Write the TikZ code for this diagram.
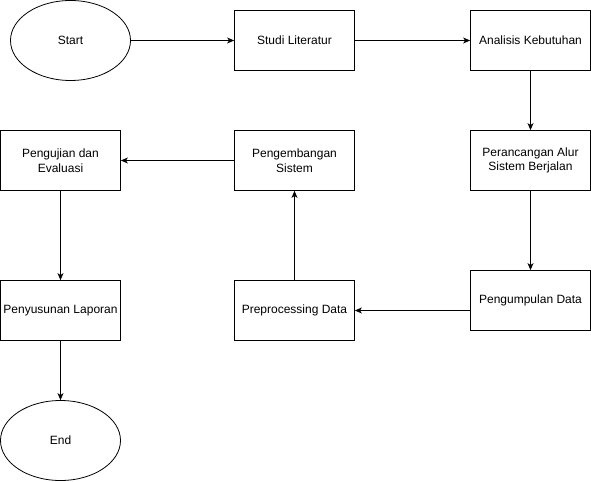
\documentclass[tikz,border=0pt]{standalone}
\usepackage{fontspec}
\setmainfont{Liberation Sans}
\usetikzlibrary{shapes.geometric,arrows.meta}
\begin{document}
\begin{tikzpicture}[x=1bp,y=-1bp,
  every node/.style={font=\fontsize{12bp}{14.5bp}\selectfont, align=center, inner sep=0pt},
  box/.style={draw, line width=0.8bp, minimum width=120bp, minimum height=60bp},
  term/.style={draw, ellipse, line width=0.8bp, minimum width=120bp, minimum height=80bp},
  arr/.style={draw, line width=0.8bp, -{Stealth[length=7bp,width=6bp,inset=2bp]}}]
\useasboundingbox (0,0) rectangle (591,482);
\node[term] (start) at (70.5,40.5) {Start};
\node[box] (studi) at (294.5,40.5) {Studi Literatur};
\node[box] (anal) at (530.5,40.5) {Analisis Kebutuhan};
\node[box] (peran) at (530.5,160.5) {Perancangan Alur\\Sistem Berjalan};
\node[box] (kumpul) at (530.5,300.5) {Pengumpulan Data};
\node[box] (prep) at (294.5,310.5) {Preprocessing Data};
\node[box] (kembang) at (294.5,160.5) {Pengembangan\\Sistem};
\node[box] (uji) at (60.5,160.5) {Pengujian dan\\Evaluasi};
\node[box] (susun) at (60.5,310.5) {Penyusunan Laporan};
\node[term] (end) at (60.5,440.5) {End};
\draw[arr] (start) -- (studi);
\draw[arr] (studi) -- (anal);
\draw[arr] (anal) -- (peran);
\draw[arr] (peran) -- (kumpul);
\draw[arr] (kumpul.west |- prep.east) -- (prep.east);
\draw[arr] (prep) -- (kembang);
\draw[arr] (kembang) -- (uji);
\draw[arr] (uji) -- (susun);
\draw[arr] (susun) -- (end);
\end{tikzpicture}
\end{document}
